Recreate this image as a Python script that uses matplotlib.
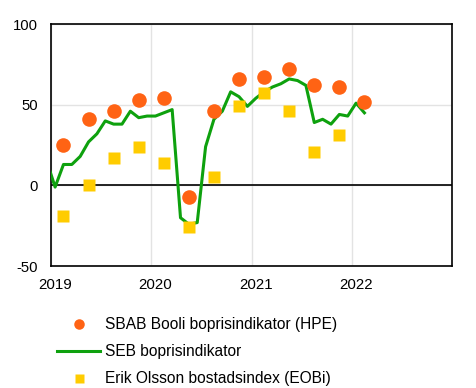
import matplotlib.pyplot as plt
import matplotlib.transforms as mtransforms
import pandas as pd

plt.rcParams['font.family'] = ['Liberation Sans', 'DejaVu Sans']
plt.rcParams['axes.unicode_minus'] = False

# SEB boprisindikator, monthly
seb_months = pd.period_range("2018-12", "2022-02", freq="M")
seb_values = [15, -1, 13, 13, 18, 27, 32, 40, 38, 38, 46, 42,
              43, 43, 45, 47, -20, -24, -23, 24, 41, 46, 58, 55,
              49, 54, 58, 61, 63, 66, 65, 62, 39, 41, 38, 44,
              43, 51, 45]

# quarterly series (SBAB Booli HPE and Erik Olsson EOBi)
q_months = pd.period_range("2019-02", "2022-02", freq="3M")
hpe_values = [25, 41, 46, 53, 54, -7, 46, 66, 67, 72, 62, 61, 52]
eobi_values = [-19, 0, 17, 24, 14, -26, 5, 49, 57, 46, 21, 31, None]

labels = ["SBAB Booli boprisindikator (HPE)", "SEB boprisindikator",
          "Erik Olsson bostadsindex (EOBi)"]
year_ticks = [2019, 2020, 2021, 2022]


def to_year(periods):
    return [p.year + (p.month - 0.5) / 12 for p in periods]


fig = plt.figure(figsize=(4.76, 3.88), dpi=100)
ax = fig.add_axes([0.107, 0.314, 0.843, 0.624])

x_seb = to_year(seb_months)
x_q = to_year(q_months)
eobi_x = [x for x, v in zip(x_q, eobi_values) if v is not None]
eobi_y = [v for v in eobi_values if v is not None]

ax.grid(True, color='#e3e3e3', lw=1.0)
ax.set_axisbelow(True)
ax.axhline(0, color='black', lw=1.2, zorder=2)

l_hpe, = ax.plot(x_q, hpe_values, 'o', color='#ff6314', ms=10.5, mec='none', zorder=4)
l_seb, = ax.plot(x_seb, seb_values, '-', color='#0ea10e', lw=2.2, zorder=3)
l_eobi, = ax.plot(eobi_x, eobi_y, 's', color='#ffcc00', ms=9, mec='none', zorder=3)

ax.set_xlim(2019, 2023)
ax.set_ylim(-50, 100)
ax.set_yticks([-50, 0, 50, 100])
ax.set_xticks(year_ticks)
ax.set_xticklabels([str(y) for y in year_ticks])
ax.tick_params(axis='y', length=0, labelsize=10.7, pad=9.5)
ax.tick_params(axis='x', length=0, labelsize=10.8, pad=8.5)
# year labels sit a little right of the grid lines
shift = mtransforms.ScaledTranslation(4 / 100, 0, fig.dpi_scale_trans)
for lab in ax.get_xticklabels():
    lab.set_transform(lab.get_transform() + shift)
for s in ax.spines.values():
    s.set_linewidth(1.2)

fig.legend([l_hpe, l_seb, l_eobi], labels, loc='upper left',
           bbox_to_anchor=(0.12, 0.183), frameon=False, fontsize=11.2,
           handlelength=2.75, handletextpad=0.32, labelspacing=0.78,
           borderaxespad=0, borderpad=0, markerscale=0.72)

plt.savefig("out.png", dpi=100)
